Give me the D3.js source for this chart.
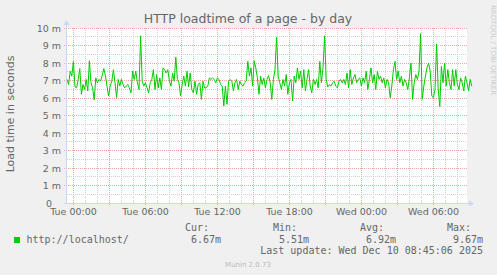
<!DOCTYPE html>
<html>
<head>
<meta charset="utf-8">
<script src="https://cdn.jsdelivr.net/npm/d3@7/dist/d3.min.js"></script>
<style>
body{margin:0;background:#f0f0f0;}
text{font-family:"DejaVu Sans",sans-serif;fill:#666666;}
.mono{font-family:"DejaVu Sans Mono",monospace;}
</style>
</head>
<body>
<svg id="graph" width="497" height="275"></svg>
<script>
///-------------------- data
var titre = "HTTP loadtime of a page - by day",
	labelY = "Load time in seconds",
	serieNom = "http://localhost/",
	tDebut = new Date(2025,11,8,23,30),
	tFin = new Date(2025,11,10,8,50),
	pasMin = 8,
	yTicks = [0,1,2,3,4,5,6,7,8,9,10],
	legTetes = ["Cur:","Min:","Avg:","Max:"],
	legValeurs = ["6.67m","5.51m","6.92m","9.67m"],
	majour = "Last update: Wed Dec 10 08:45:06 2025",
	version = "Munin 2.0.73";

// load time (ms), one value every 8 minutes
var charge = [
	7.06,6.77,7.53,7.25,8.09,6.64,6.58,7.06,7.68,6.21,6.77,6.49,7.06,6.40,8.13,6.87,6.58,5.89,7.15,6.87,
	7.06,6.96,7.28,7.68,7.28,6.68,6.11,6.68,6.96,7.62,6.87,6.02,7.06,6.68,7.06,6.77,6.58,6.68,6.77,6.58,
	6.30,7.53,7.06,7.53,6.87,6.49,9.55,6.96,6.68,6.87,6.58,6.30,6.87,7.06,7.62,6.49,7.34,6.58,7.15,6.49,
	7.72,7.62,7.43,7.62,6.96,6.68,7.43,6.96,8.34,7.06,6.87,6.11,6.77,7.25,6.68,7.53,6.64,7.43,6.49,6.30,
	6.96,6.21,6.77,6.87,5.92,6.96,6.58,6.58,6.68,7.15,7.06,7.15,7.06,6.87,7.15,7.06,6.77,6.68,5.55,6.68,
	5.64,6.96,7.06,6.96,6.40,6.87,7.06,6.49,6.96,6.77,6.68,
	6.87,6.96,8.09,7.25,7.72,6.68,8.13,7.72,7.15,6.21,7.25,6.77,7.15,6.58,7.06,7.28,6.87,5.92,7.06,7.62,
	9.47,7.25,6.87,6.49,7.06,6.68,7.34,6.21,6.87,7.06,5.83,7.25,6.87,7.72,7.06,7.53,6.58,7.62,6.40,7.06,
	7.62,6.68,6.30,7.06,6.77,7.06,6.58,8.09,6.87,7.72,9.55,7.06,6.64,6.77,6.68,6.87,6.96,6.68,6.58,6.96,
	7.06,6.87,7.06,6.77,7.43,6.58,7.62,6.77,7.15,7.34,6.87,7.06,7.15,6.68,7.15,6.87,7.53,6.49,7.06,7.72,
	6.87,7.34,6.49,7.53,7.06,7.25,6.87,7.15,6.58,7.06,6.87,6.02,6.68,7.62,8.09,7.06,7.53,6.87,7.25,6.68,
	7.06,6.87,6.49,7.15,8.00,5.92,6.87,7.34,7.06,7.53,9.67,5.92,6.68,7.25,7.72,8.00,7.53,6.11,6.02,6.49,
	9.09,6.49,5.51,7.81,6.87,8.00,6.68,7.62,6.87,6.49,7.62,6.68,7.62,6.77,6.49,7.15,6.87,6.40,7.25,6.87,
	6.40,7.06,6.67
];

///-------------------- geometry
var gauche = 67, droite = 467, haut = 28, bas = 203;
var svg = d3.select("#graph");

var x = d3.scaleTime().domain([tDebut,tFin]).range([gauche,droite]);
var y = d3.scaleLinear().domain([0,10]).range([bas,haut]);

svg.append("rect").attr("width",497).attr("height",275).attr("fill","#f0f0f0");
svg.append("rect")
	.attr("x",gauche).attr("y",haut)
	.attr("width",droite-gauche).attr("height",bas-haut)
	.attr("fill","#ffffff");

///-------------------- grid
var grille = svg.append("g").attr("shape-rendering","crispEdges");

d3.range(0.5,10,1).forEach(function(v){
	grille.append("line")
		.attr("x1",gauche).attr("x2",droite)
		.attr("y1",y(v)).attr("y2",y(v))
		.attr("stroke","#cfcfcf").attr("stroke-dasharray","1,1");
});
d3.timeHour.range(tDebut,tFin).forEach(function(t){
	if(t.getHours()%3==0) return;
	grille.append("line")
		.attr("x1",x(t)).attr("x2",x(t))
		.attr("y1",haut).attr("y2",bas)
		.attr("stroke","#cfcfcf").attr("stroke-dasharray","1,1");
});
yTicks.forEach(function(v){
	grille.append("line")
		.attr("x1",gauche-3).attr("x2",droite)
		.attr("y1",y(v)).attr("y2",y(v))
		.attr("stroke","#f3a3a3").attr("stroke-dasharray","1,1");
});
d3.timeHour.every(3).range(tDebut,tFin).forEach(function(t){
	grille.append("line")
		.attr("x1",x(t)).attr("x2",x(t))
		.attr("y1",haut).attr("y2",bas+3)
		.attr("stroke","#f3a3a3").attr("stroke-dasharray","1,1");
});

///-------------------- axes
var axeY = d3.axisLeft(y).tickValues(yTicks).tickSize(0).tickPadding(6)
	.tickFormat(function(d){ return d==0 ? "0" : d+" m"; });
var gY = svg.append("g").attr("transform","translate("+gauche+",0)").call(axeY);
gY.select(".domain").remove();
gY.selectAll("text").attr("font-size",9.5).attr("font-family","DejaVu Sans").attr("fill","#666666")
	.attr("dx",function(d){ return d==0 ? -9 : 0; });

var axeX = d3.axisBottom(x).ticks(d3.timeHour.every(6)).tickSize(0).tickPadding(5)
	.tickFormat(d3.timeFormat("%a %H:%M"));
var gX = svg.append("g").attr("transform","translate(0,"+bas+")").call(axeX);
gX.select(".domain").remove();
gX.selectAll("text").attr("font-size",9.5).attr("font-family","DejaVu Sans").attr("fill","#666666");

svg.append("line").attr("x1",gauche-0.5).attr("x2",gauche-0.5).attr("y1",bas+0.5).attr("y2",haut-4)
	.attr("stroke","#cfd6f8");
svg.append("path").attr("d","M"+(gauche-3.5)+","+(haut-3)+"L"+(gauche-0.5)+","+(haut-8)+"L"+(gauche+2.5)+","+(haut-3)+"Z")
	.attr("fill","#cfd6f8");
svg.append("line").attr("x1",gauche-3).attr("x2",droite+3).attr("y1",bas+0.5).attr("y2",bas+0.5)
	.attr("stroke","#cfd6f8");
svg.append("path").attr("d","M"+(droite+2)+","+(bas-2.5)+"L"+(droite+7)+","+(bas+0.5)+"L"+(droite+2)+","+(bas+3.5)+"Z")
	.attr("fill","#cfd6f8");

///-------------------- line
var ligne = d3.line()
	.x(function(d,i){ return x(d3.timeMinute.offset(tDebut,i*pasMin)); })
	.y(function(d){ return y(d); });
svg.append("path").datum(charge)
	.attr("d",ligne)
	.attr("fill","none")
	.attr("stroke","#00cc00")
	.attr("stroke-width",1)
	.attr("stroke-linejoin","round");

///-------------------- texts
svg.append("text").text(titre)
	.attr("x",248).attr("y",23).attr("text-anchor","middle").attr("font-size",12.5);
svg.append("text").text(labelY)
	.attr("transform","translate(14,114) rotate(-90)")
	.attr("text-anchor","middle").attr("font-size",11);
svg.append("text").text("RRDTOOL / TOBI OETIKER")
	.attr("transform","translate(490.5,5) rotate(90)")
	.attr("font-size",7).style("fill","#cccccc");

// legend
svg.append("rect").attr("x",14).attr("y",237).attr("width",6).attr("height",6)
	.attr("fill","#00cc00");
svg.append("text").attr("class","mono").text(serieNom)
	.attr("x",26.5).attr("y",242.5).attr("font-size",10);
var colTete = [185,273,360,447],
	colVal = [191,279,366,449];
legTetes.forEach(function(t,i){
	svg.append("text").attr("class","mono").text(t)
		.attr("x",colTete[i]).attr("y",231).attr("font-size",10);
	svg.append("text").attr("class","mono").text(legValeurs[i])
		.attr("x",i==3 ? 483 : colVal[i]).attr("y",242.5)
		.attr("text-anchor",i==3 ? "end" : "start").attr("font-size",10);
});
svg.append("text").attr("class","mono").text(majour)
	.attr("x",483).attr("y",254).attr("text-anchor","end").attr("font-size",10);
svg.append("text").text(version)
	.attr("x",248).attr("y",267).attr("text-anchor","middle").attr("font-size",7)
	.style("fill","#bbbbbb");
</script>
</body>
</html>
